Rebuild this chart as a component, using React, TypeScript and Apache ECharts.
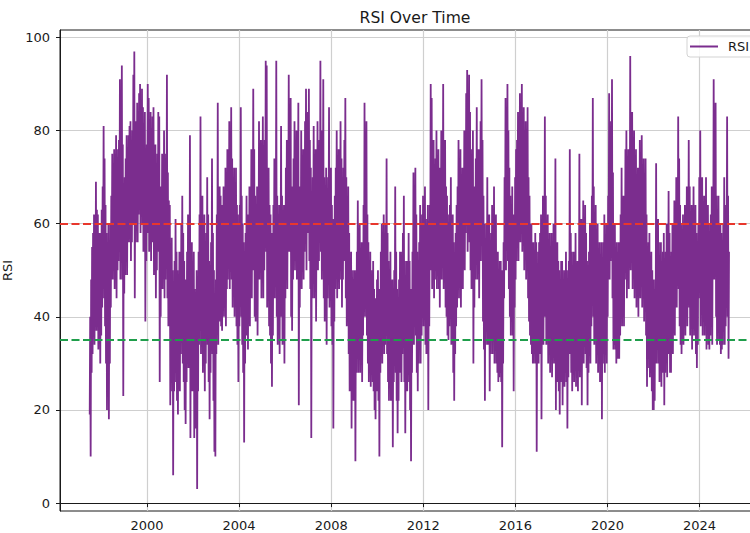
import React, { useEffect, useRef } from "react";
import * as echarts from "echarts";

// RSI readings: 24 half-month slots per year,
// each slot given as (low, high) of the values in that slot.
const rsi1997 = [19,40,10,48,28,55,32,58,36,62,34,60,40,69,37,63,39,62,33,58,36,58,30,55];
const rsi1998 = [36,63,42,68,50,81,44,74,38,64,30,58,20,54,34,60,18,52,30,60,42,66,50,75,48,73,52,76,46,71,54,79,44,72,50,76,52,78,56,91,48,75,58,94,48,77,23,66];
const rsi1999 = [45,70,49,74,54,79,49,75,56,79,56,81,58,82,52,77,56,80,60,92,64,97,44,75,56,82,60,86,56,81,62,88,64,90,58,83,64,89,60,85,54,79,58,84,39,72,52,77];
const rsi2000 = [60,90,58,87,54,80,59,84,52,79,56,83,58,85,49,75,52,77,44,73,50,75,56,84,54,83,26,66,40,68,49,75,46,71,52,80,44,69,48,75,54,92,44,71,38,65,39,64];
const rsi2001 = [21,54,29,57,24,50,6,46,24,52,32,61,26,54,22,50,19,48,26,54,24,50,32,60,36,66,30,58,26,52,20,48,17,46,26,54,34,62,29,56,38,79,14,48,28,56,24,51];
const rsi2002 = [26,54,14,46,16,44,22,50,3,42,24,54,34,62,42,83,32,60,38,66,28,54,34,62,24,52,30,58,38,70,34,62,26,52,18,48,28,56,40,74,32,58,22,50,11,44,10,48];
const rsi2003 = [32,62,46,86,34,64,40,68,39,66,38,64,37,64,42,68,40,66,44,72,38,66,46,76,48,74,52,82,46,72,52,85,48,74,42,68,46,72,40,66,44,72,38,64,34,62,26,58];
const rsi2004 = [38,64,46,85,40,66,34,60,28,56,13,52,30,58,40,66,36,62,33,60,42,68,38,64,48,76,44,70,52,89,50,76,40,66,39,64,42,68,36,62,50,82,48,74,52,78,44,70];
const rsi2005 = [52,83,44,72,50,78,56,95,54,94,42,68,46,72,38,64,36,62,30,58,25,56,36,64,48,74,44,72,56,95,40,66,34,62,38,64,32,60,50,81,40,66,34,62,36,64,30,58];
const rsi2006 = [44,72,52,78,46,72,58,92,54,82,56,87,40,68,37,66,48,74,56,82,50,76,54,80,48,74,56,86,21,62,42,68,52,80,46,72,50,76,48,74,54,82,58,89,50,76,58,84];
const rsi2007 = [58,89,52,78,46,72,14,60,44,70,54,81,44,70,50,76,39,66,56,82,50,76,52,78,60,95,54,80,48,74,58,91,44,70,39,66,46,72,34,64,44,70,56,85,42,68,46,72];
const rsi2008 = [38,64,34,61,16,54,39,66,46,72,52,80,44,70,50,76,46,72,54,82,48,74,42,68,48,72,52,78,56,87,44,70,38,64,42,68,32,58,24,52,28,54,16,48,24,50,22,48];
const rsi2009 = [30,50,9,44,28,54,38,65,28,54,34,60,28,50,30,56,26,48,36,64,44,86,40,66,46,82,36,62,30,56,26,48,28,54,25,46,28,50,26,52,24,46,20,44,18,44,24,48];
const rsi2010 = [24,50,22,46,10,44,28,54,34,60,30,56,36,62,32,58,34,60,40,74,32,58,26,52,22,46,28,54,22,46,24,48,12,42,26,50,36,68,28,54,22,46,15,42,22,48,28,54];
const rsi2011 = [28,54,26,50,32,58,38,66,26,52,15,46,26,52,24,48,32,58,26,52,20,46,9,44,28,54,40,71,34,60,42,72,36,62,28,54,24,48,30,56,38,64,30,56,36,62,40,66];
const rsi2012 = [38,64,42,68,34,61,32,58,38,64,20,54,38,64,52,90,50,87,46,72,50,78,44,70,48,74,52,80,46,72,50,76,46,72,42,68,52,80,48,74,56,90,46,72,50,78,42,68];
const rsi2013 = [40,66,36,62,35,60,38,64,44,70,34,60,36,62,28,56,22,52,32,58,38,64,42,68,50,78,44,70,50,76,42,68,46,72,46,72,54,80,50,76,58,88,62,93,54,80,60,92];
const rsi2014 = [56,84,50,76,46,72,52,80,30,62,42,68,48,74,54,85,48,74,50,76,44,70,52,82,58,91,52,78,39,66,33,60,22,54,34,60,42,70,34,60,36,62,24,52,32,58,38,64];
const rsi2015 = [32,58,40,68,30,56,36,62,30,54,28,54,26,50,27,52,28,52,26,50,12,46,30,56,44,70,54,87,50,78,56,90,52,80,46,72,40,66,36,62,42,68,36,62,24,56,42,70];
const rsi2016 = [48,76,52,78,58,84,52,78,60,88,56,82,62,90,54,80,58,85,50,76,54,82,48,74,54,85,44,70,39,66,36,60,34,60,32,56,30,56,30,54,32,58,30,56,11,46,30,54];
const rsi2017 = [30,56,32,58,36,62,18,50,38,66,34,60,46,83,40,66,34,60,36,62,30,56,32,58,28,54,32,58,27,52,34,60,30,56,42,74,20,50,30,56,26,52,24,50,19,46,26,52];
const rsi2018 = [27,52,21,48,26,50,25,48,28,54,26,50,16,46,27,52,40,76,32,58,28,54,24,48,28,54,26,50,32,58,25,48,27,52,24,48,40,75,27,52,34,61,21,48,38,65,30,56];
const rsi2019 = [40,64,32,58,29,52,21,48,28,54,34,60,30,56,38,66,46,87,40,68,34,60,38,64,30,56,34,60,28,54,30,56,26,52,30,56,18,48,30,56,36,62,28,54,34,60,30,56];
const rsi2020 = [40,66,52,88,48,76,52,82,56,91,44,71,33,58,34,60,33,54,30,56,31,54,31,56,31,54,36,62,44,72,38,64,40,66,38,64,48,76,50,80,44,70,50,76,46,72,58,96];
const rsi2021 = [50,76,56,84,46,72,54,80,44,70,50,76,42,68,46,72,40,66,50,78,44,70,52,79,42,68,48,74,39,66,46,74,36,62,25,52,29,56,32,58,27,52,28,54,24,50,20,48];
const rsi2022 = [20,46,22,48,38,73,30,54,36,61,30,56,26,50,30,56,25,48,28,54,32,58,21,48,28,54,34,60,27,52,40,67,32,58,28,52,28,54,34,60,32,58,38,65,36,62,42,70];
const rsi2023 = [42,68,50,83,46,74,38,64,34,60,32,54,36,62,34,60,38,64,36,62,42,68,38,64,48,78,42,68,36,62,38,64,33,58,42,68,36,62,38,64,32,58,29,52,34,60,44,70];
const rsi2024 = [50,80,38,64,44,70,36,62,40,66,36,62,44,70,33,58,38,64,34,60,33,54,36,62,42,68,34,60,54,91,48,76,52,86,40,66,34,60,40,66,35,56,34,60,32,58,33,54];
const rsi2025 = [34,60,44,70,34,60,38,64,50,83,40,66,31,54];

const years: Array<[number, number[]]> = [
  [1997, rsi1997], [1998, rsi1998], [1999, rsi1999], [2000, rsi2000], [2001, rsi2001],
  [2002, rsi2002], [2003, rsi2003], [2004, rsi2004], [2005, rsi2005], [2006, rsi2006],
  [2007, rsi2007], [2008, rsi2008], [2009, rsi2009], [2010, rsi2010], [2011, rsi2011],
  [2012, rsi2012], [2013, rsi2013], [2014, rsi2014], [2015, rsi2015], [2016, rsi2016],
  [2017, rsi2017], [2018, rsi2018], [2019, rsi2019], [2020, rsi2020], [2021, rsi2021],
  [2022, rsi2022], [2023, rsi2023], [2024, rsi2024], [2025, rsi2025],
];

const xTicks = [2000, 2004, 2008, 2012, 2016, 2020, 2024];
const yTicks = [0, 20, 40, 60, 80, 100];
const upperLevel = 60;
const lowerLevel = 35;
const SLOTS_PER_YEAR = 24;

function buildPoints(): [number, number][] {
  const pts: [number, number][] = [];
  years.forEach(([year, vals], k) => {
    const nSlots = vals.length / 2;
    const start = k === 0 ? SLOTS_PER_YEAR - nSlots : 0;
    vals.forEach((v, idx) => {
      const slot = Math.floor(idx / 2);
      const sub = idx % 2;
      pts.push([year + (start + slot + 0.25 + 0.5 * sub) / SLOTS_PER_YEAR, v]);
    });
  });
  return pts;
}

const FONT = "'DejaVu Sans', sans-serif";
const INK = "#1a1a1a";

export default function App() {
  const ref = useRef<HTMLDivElement>(null);
  useEffect(() => {
    if (!ref.current) return;
    const chart = echarts.init(ref.current, undefined, { renderer: "svg" });
    const axisCommon = {
      type: "value" as const,
      axisLine: { show: true, lineStyle: { color: INK, width: 1 } },
      splitLine: { show: true, lineStyle: { color: "#cfcfcf", width: 1.2 } },
    };
    chart.setOption({
      animation: false,
      backgroundColor: "#ffffff",
      title: {
        text: "RSI Over Time",
        left: 410,
        top: 5,
        textAlign: "center",
        textStyle: { fontFamily: FONT, fontSize: 15.6, fontWeight: "normal", color: INK },
      },
      legend: {
        data: ["RSI"],
        left: 687,
        top: 36,
        icon: "rect",
        itemWidth: 28,
        itemHeight: 2,
        padding: [4, 10, 4, 3],
        borderColor: "#d3d3d3",
        borderWidth: 1,
        borderRadius: 3,
        backgroundColor: "rgba(255,255,255,0.85)",
        textStyle: { fontFamily: FONT, fontSize: 13, color: INK, padding: [0, 0, 0, 5] },
      },
      grid: {
        left: 60,
        right: -11,
        top: 30,
        bottom: 22,
        show: true,
        borderColor: INK,
        borderWidth: 1,
        containLabel: false,
        outerBoundsMode: "none",
      },
      xAxis: {
        ...axisCommon,
        min: 1996.22,
        max: 2026.67,
        axisTick: { show: true, customValues: xTicks, length: 4, lineStyle: { color: INK } },
        axisLabel: {
          customValues: xTicks,
          margin: 8,
          color: INK,
          fontFamily: FONT,
          fontSize: 13,
          formatter: (v: number) => String(v),
        },
      },
      yAxis: {
        ...axisCommon,
        min: -1.7,
        max: 101.6,
        name: "RSI",
        nameLocation: "middle",
        nameGap: 46,
        nameTextStyle: { fontFamily: FONT, fontSize: 13, color: INK },
        axisTick: { show: true, customValues: yTicks, length: 4, lineStyle: { color: INK } },
        axisLabel: {
          customValues: yTicks,
          margin: 10,
          color: INK,
          fontFamily: FONT,
          fontSize: 13,
          formatter: (v: number) => String(v),
        },
      },
      series: [
        {
          name: "RSI",
          type: "line",
          data: buildPoints(),
          showSymbol: false,
          symbol: "none",
          lineStyle: { color: "#7b2d8e", width: 1.8 },
          itemStyle: { color: "#7b2d8e" },
          emphasis: { disabled: true },
          markLine: {
            silent: true,
            symbol: "none",
            label: { show: false },
            emphasis: { disabled: true },
            data: [
              { yAxis: upperLevel, lineStyle: { color: "#e8372c", type: [8, 3.5], width: 1.8 } },
              { yAxis: lowerLevel, lineStyle: { color: "#1f9e4b", type: [8, 3.5], width: 1.8 } },
            ],
          },
        },
      ],
    });
    return () => chart.dispose();
  }, []);
  return (
    <div
      ref={ref}
      style={{ position: "fixed", left: 0, top: 0, width: 750, height: 533, background: "#fff" }}
    />
  );
}
